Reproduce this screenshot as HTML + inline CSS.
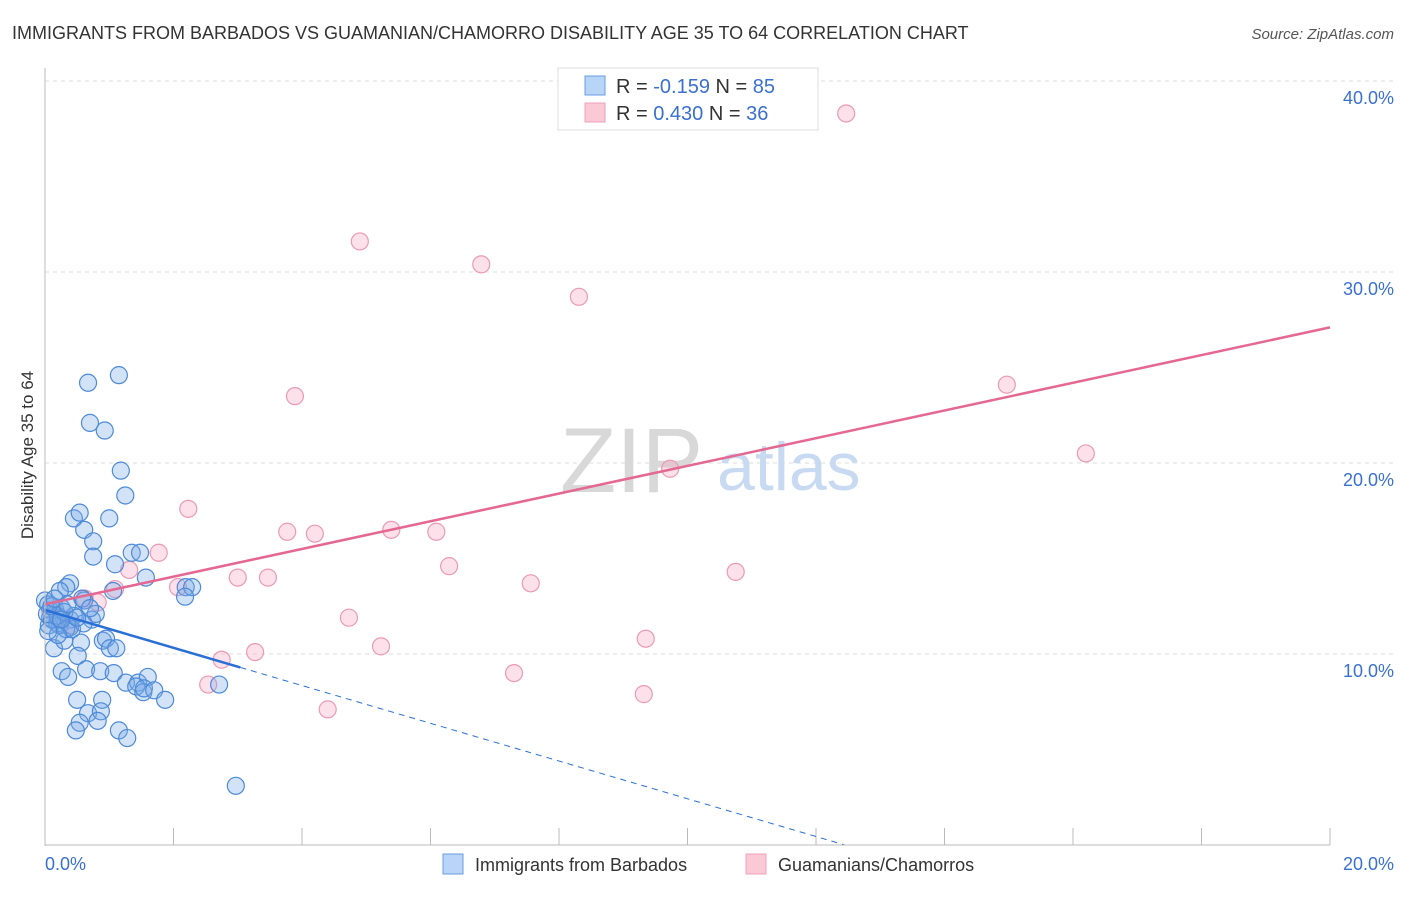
<!DOCTYPE html>
<html><head><meta charset="utf-8"><style>
body{margin:0;background:#fff;font-family:"Liberation Sans",sans-serif;}
svg text{font-family:"Liberation Sans",sans-serif;}
</style></head><body>
<svg id="chart" width="1406" height="892">
<text x="12" y="39" font-size="18" fill="#333">IMMIGRANTS FROM BARBADOS VS GUAMANIAN/CHAMORRO DISABILITY AGE 35 TO 64 CORRELATION CHART</text>
<text x="1394" y="39" font-size="15" fill="#555" font-style="italic" text-anchor="end">Source: ZipAtlas.com</text>
<g id="grid"></g>
<text x="560" y="492" font-size="92" fill="#d8d8d8" font-family="Liberation Serif">ZIP</text>
<text x="717" y="490" font-size="68" fill="#c8daf2">atlas</text>
<g id="points"></g>
<g id="lines"></g>
<line x1="45" y1="68" x2="45" y2="846" stroke="#bbb"/>
<line x1="45" y1="845" x2="1330" y2="845" stroke="#bbb"/>
<text transform="translate(33,455) rotate(-90)" font-size="17" fill="#333" text-anchor="middle">Disability Age 35 to 64</text>
<text x="45" y="870" font-size="18" fill="#3a70d0">0.0%</text>
<text x="1394" y="870" font-size="18" fill="#3a70d0" text-anchor="end">20.0%</text>
<g>
<rect x="558" y="68" width="260" height="62" fill="#fff" stroke="#ddd"/>
<rect x="585" y="76" width="20" height="19" fill="#b8d4f6" stroke="#6a9de0"/>
<rect x="585" y="103" width="20" height="19" fill="#fbc8d6" stroke="#eea0b8"/>
<text x="616" y="93" font-size="20" fill="#333">R = <tspan fill="#3a70d0">-0.159</tspan>   N = <tspan fill="#3a70d0">85</tspan></text>
<text x="616" y="120" font-size="20" fill="#333">R =  <tspan fill="#3a70d0">0.430</tspan>   N = <tspan fill="#3a70d0">36</tspan></text>
</g>
<g>
<rect x="443" y="854" width="20" height="20" fill="#b8d4f6" stroke="#6a9de0"/>
<text x="475" y="871" font-size="18" fill="#333">Immigrants from Barbados</text>
<rect x="746" y="854" width="20" height="20" fill="#fbc8d6" stroke="#eea0b8"/>
<text x="778" y="871" font-size="18" fill="#333">Guamanians/Chamorros</text>
</g>
</svg>
<script>
const yTicks=[10,20,30,40];
const xTicks=[0,2,4,6,8,10,12,14,16,18,20];
const blueX=[1.15,0.67,0.70,0.93,1.18,1.25,0.45,0.54,1.00,0.61,0.75,0.75,1.35,1.48,1.09,1.57,2.19,2.29,2.18,0.39,0.33,0.23,1.06,0.61,0.0,0.05,0.16,0.26,0.08,0.39,0.23,0.39,0.73,0.79,0.90,0.95,1.01,1.11,0.14,0.30,0.56,0.51,0.26,0.36,0.64,0.86,1.07,1.26,1.45,1.60,1.42,1.53,1.54,1.70,1.87,0.50,0.89,0.67,0.87,0.54,0.82,0.48,1.15,1.28,2.71,2.97,0.06,0.03,0.19,0.33,0.45,0.58,0.20,0.11,0.1,0.3,0.42,0.2,0.05,0.6,0.15,0.35,0.5,0.25,0.7];
const blueY=[24.6,24.2,22.1,21.7,19.6,18.3,17.1,17.4,17.1,16.5,15.9,15.1,15.3,15.3,14.7,14.0,13.5,13.5,13.0,13.7,13.5,13.3,13.3,12.8,12.8,12.6,12.3,12.4,11.9,11.8,11.5,11.4,11.8,12.1,10.7,10.8,10.3,10.3,10.3,10.7,10.6,9.9,9.1,8.8,9.2,9.1,9.0,8.5,8.5,8.8,8.3,8.0,8.2,8.1,7.6,7.6,7.6,6.9,7.0,6.4,6.5,6.0,6.0,5.6,8.4,3.1,11.5,12.1,11.6,11.3,12.0,12.9,12.0,11.8,12.5,12.2,11.3,11.0,11.2,11.6,12.9,12.6,11.9,11.8,12.4];
const pinkX=[12.47,4.90,6.79,8.31,3.89,14.97,16.20,9.73,2.23,3.77,4.20,5.39,6.09,1.77,6.29,7.56,3.00,3.47,1.31,2.07,1.09,0.62,0.82,4.73,10.75,9.35,5.23,3.27,2.75,2.54,7.30,9.32,4.40,0.23,0.39,0.08];
const pinkY=[38.3,31.6,30.4,28.7,23.5,24.1,20.5,19.7,17.6,16.4,16.3,16.5,16.4,15.3,14.6,13.7,14.0,14.0,14.4,13.5,13.4,12.9,12.7,11.9,14.3,10.8,10.4,10.1,9.7,8.4,9.0,7.9,7.1,11.9,11.5,12.3];
const blueTrend=[0,12.3,12.45,0];
const pinkTrend=[0,12.6,20,27.1];
const blueSolidEnd=3.04;
const NS="http://www.w3.org/2000/svg";
function sx(v){return 45+v*64.25;}
function sy(v){return 845-v*19.1;}
function mk(t,a){const e=document.createElementNS(NS,t);for(const k in a)e.setAttribute(k,a[k]);return e;}
const grid=document.getElementById('grid');
yTicks.forEach(t=>{
  const l=mk('line',{x1:45,x2:1394,y1:sy(t),y2:sy(t),stroke:'#ddd','stroke-dasharray':'4,4'});
  
  
  grid.appendChild(l);
  const tx=mk('text',{x:1394,y:sy(t)+23,'font-size':18,fill:'#3a70d0','text-anchor':'end'});
  tx.textContent=t.toFixed(1)+'%';
  
  
  grid.appendChild(tx);
});
xTicks.forEach(t=>{
  const l=mk('line',{x1:sx(t),x2:sx(t),y1:828,y2:845,stroke:'#bbb'});
  
  
  grid.appendChild(l);
});
const pts=document.getElementById('points');
pinkX.forEach((x,i)=>{
  const c=mk('circle',{cx:sx(x),cy:sy(pinkY[i]),r:8.5,fill:'rgba(246,170,195,0.35)',stroke:'#eb9ab4','stroke-width':1.2});
  
  
  pts.appendChild(c);
});
blueX.forEach((x,i)=>{
  const c=mk('circle',{cx:sx(x),cy:sy(blueY[i]),r:8.5,fill:'rgba(120,170,230,0.33)',stroke:'#4d8ad8','stroke-width':1.2});
  
  
  pts.appendChild(c);
});
const ln=document.getElementById('lines');
const slope=(blueTrend[3]-blueTrend[1])/(blueTrend[2]-blueTrend[0]);
const yEnd=blueTrend[1]+slope*blueSolidEnd;
let l=mk('line',{x1:sx(blueTrend[0]),y1:sy(blueTrend[1]),x2:sx(blueSolidEnd),y2:sy(yEnd),stroke:'#2a6fd6','stroke-width':2.5});


ln.appendChild(l);
l=mk('line',{x1:sx(blueSolidEnd),y1:sy(yEnd),x2:sx(blueTrend[2]),y2:sy(blueTrend[3]),stroke:'#2a6fd6','stroke-width':1,'stroke-dasharray':'6,5'});


ln.appendChild(l);
l=mk('line',{x1:sx(pinkTrend[0]),y1:sy(pinkTrend[1]),x2:sx(pinkTrend[2]),y2:sy(pinkTrend[3]),stroke:'#e46891','stroke-width':2.5});


ln.appendChild(l);
</script>
</body></html>
